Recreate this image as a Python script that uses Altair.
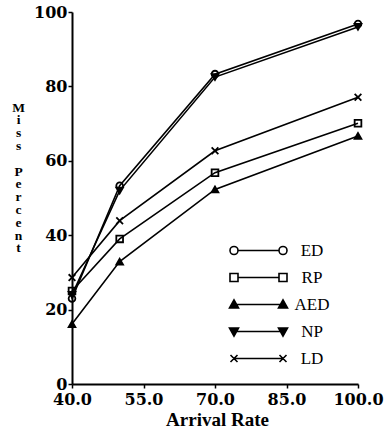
import altair as alt
import pandas as pd

series = ["ED", "RP", "AED", "NP", "LD"]
arrival = [40, 50, 70, 100]
ed = [23.0, 53.3, 83.3, 96.8]
rp = [25.0, 39.0, 56.8, 70.1]
aed = [16.1, 32.9, 52.3, 66.7]
np_ = [24.0, 52.0, 82.5, 96.0]
ld = [28.6, 43.9, 62.7, 77.1]

x_ticks = [40, 55, 70, 85, 100]
y_ticks = [0, 20, 40, 60, 80, 100]

rows = []
for name, vals in zip(series, [ed, rp, aed, np_, ld]):
    for a, v in zip(arrival, vals):
        rows.append({"series": name, "key": name, "rate": a, "miss": v})
df = pd.DataFrame(rows)

shapes = ["circle", "square", "triangle-up", "triangle-down", "M-1,-1L1,1M1,-1L-1,1"]
fills = ["transparent", "transparent", "black", "black", "transparent"]
order = sorted(range(len(series)), key=lambda i: series[i])
shapes_sorted = [shapes[i] for i in order]
fills_sorted = [fills[i] for i in order]

legend_paths = {
    "ED": "M-4.1,0L4.1,0M-5.7,0A0.8,0.8 0 1,0 -4.1,0A0.8,0.8 0 1,0 -5.7,0M4.1,0A0.8,0.8 0 1,0 5.7,0A0.8,0.8 0 1,0 4.1,0",
    "RP": "M-4.1,0L4.1,0M-5.7,-0.8H-4.1V0.8H-5.7ZM4.1,-0.8H5.7V0.8H4.1Z",
    "AED": "M-4.9,0L4.9,0M-4.9,-0.9L-4.0,0.7H-5.8ZM4.9,-0.9L5.8,0.7H4.0Z",
    "NP": "M-4.9,0L4.9,0M-4.9,0.9L-4.0,-0.7H-5.8ZM4.9,0.9L5.8,-0.7H4.0Z",
    "LD": "M-4.9,0L4.9,0M-5.6,-0.7L-4.2,0.7M-4.2,-0.7L-5.6,0.7M4.2,-0.7L5.6,0.7M5.6,-0.7L4.2,0.7",
}
shape_expr = "".join(f"datum.value === '{k}' ? '{v}' : " for k, v in legend_paths.items()) + "'circle'"
fill_expr = "indexof(['AED','NP'], datum.value) >= 0 ? 'black' : 'transparent'"

ystack = ["M", "i", "s", "s", "\u2800", "P", "e", "r", "c", "e", "n", "t"]

x = alt.X("rate:Q", scale=alt.Scale(domain=[40, 100], nice=False),
          axis=alt.Axis(values=x_ticks, format=".1f", title="Arrival Rate",
                        titleFont="Liberation Serif", titleFontSize=19, titleFontWeight="bold",
                        titleBaseline="alphabetic", titleY=41, titleX=145,
                        labelFont="DejaVu Serif", labelFontSize=16, labelFontWeight="bold",
                        labelPadding=3, tickSize=4, labelFlush=False))
y = alt.Y("miss:Q", scale=alt.Scale(domain=[0, 100], nice=False),
          axis=alt.Axis(values=y_ticks, title=ystack, titleAngle=0,
                        titleFont="Liberation Serif", titleFontSize=13.5, titleFontWeight="bold",
                        titleLineHeight=12.8, titleAlign="center", titleBaseline="alphabetic",
                        titleX=-54, titleY=99,
                        labelFont="DejaVu Serif", labelFontSize=16, labelFontWeight="bold",
                        labelPadding=1, tickSize=4))

lines = alt.Chart(df).mark_line(strokeWidth=1.6).encode(
    x=x, y=y,
    color=alt.Color("key:N", scale=alt.Scale(domain=series, range=["black"] * 5),
                    legend=alt.Legend(orient="none", legendX=178, legendY=230, title=None,
                                      padding=0, symbolSize=100, rowPadding=9,
                                      symbolType={"expr": shape_expr},
                                      symbolFillColor={"expr": fill_expr},
                                      symbolStrokeColor="black",
                                      symbolStrokeWidth=1.6, symbolOpacity=1,
                                      labelFont="Liberation Serif", labelFontSize=17,
                                      labelAlign="center", labelOffset=45, labelColor="black")),
)
points = alt.Chart(df).mark_point(filled=False, size=45, strokeWidth=1.8, opacity=1, color="black").encode(
    x=x, y=y,
    shape=alt.Shape("series:N", scale=alt.Scale(range=shapes_sorted), legend=None),
    fill=alt.Fill("series:N", scale=alt.Scale(range=fills_sorted), legend=None),
)

chart = (lines + points).properties(
    width=286, height=372, autosize="none",
    padding={"left": 72, "top": 12, "right": 31, "bottom": 50},
    background="white",
).configure_view(stroke=None).configure_axis(
    domainColor="black", domainWidth=2, tickColor="black", tickWidth=1.5,
    labelColor="black", titleColor="black", grid=False,
)

chart.save("out.html", embed_options={"renderer": "svg", "actions": False})
